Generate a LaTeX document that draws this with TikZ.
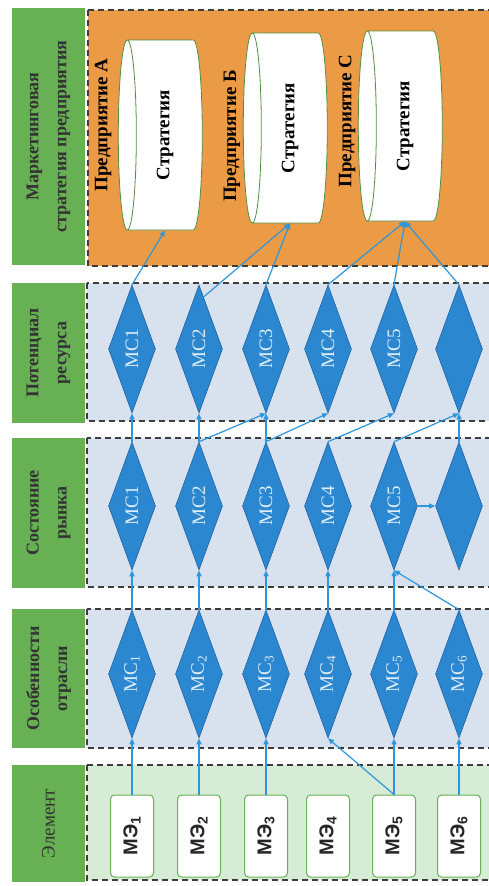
\documentclass[tikz,border=0pt]{standalone}
\usepackage{fontspec}
\setmainfont{Liberation Serif}
\newfontfamily\elfont{Liberation Sans}
\usepackage{xcolor}
\usepackage{tikz}
\usetikzlibrary{arrows.meta,shapes.geometric}
\definecolor{hdgreen}{RGB}{104,176,84}
\definecolor{bandorange}{RGB}{235,154,69}
\definecolor{bandblue}{RGB}{216,226,238}
\definecolor{bandgreen}{RGB}{214,236,214}
\definecolor{msblue}{RGB}{42,135,208}
\definecolor{msedge}{RGB}{30,100,165}
\definecolor{arblue}{RGB}{45,150,220}
\definecolor{dashgray}{RGB}{60,60,60}
\newcommand{\vtext}[1]{\rotatebox{90}{#1}}
\begin{document}
\begin{tikzpicture}[x=1pt,y=-1pt,>={Triangle[length=6pt,width=5pt]},
hdr/.style={fill=hdgreen,rotate=90,minimum height=73pt,inner sep=0pt,text=black!80,align=center,font=\bfseries\fontsize{18}{28}\selectfont},
ms/.style={diamond,aspect=.37,fill=msblue,draw=msedge,line width=.6pt,minimum width=47pt,minimum height=128pt,inner sep=0pt,text=white!85!msblue,font=\fontsize{19}{22}\selectfont},
mebox/.style={draw=hdgreen,line width=1pt,fill=white,rounded corners=4pt,minimum width=43pt,minimum height=82pt,inner sep=0pt,text=black!85,font=\elfont\bfseries\fontsize{20}{24}\selectfont},
strat/.style={cylinder,shape border rotate=180,aspect=.2,draw=hdgreen!80!black,line width=.8pt,fill=white,minimum height=84pt,minimum width=190pt,inner sep=0pt,font=\bfseries\fontsize{19}{22}\selectfont},
firm/.style={rotate=90,inner sep=0pt,font=\bfseries\fontsize{19}{22}\selectfont},
band/.style={draw=dashgray,line width=1.6pt,dash pattern=on 6pt off 4pt},
link/.style={->,draw=arblue,line width=1.2pt}]
\clip (0,0) rectangle (489,886);
\fill[white] (0,0) rectangle (489,886);
\draw[band,fill=bandorange] (88,10) rectangle (520,266);
\draw[band,fill=bandblue] (87,283) rectangle (520,421);
\draw[band,fill=bandblue] (87,438) rectangle (520,587);
\draw[band,fill=bandblue] (87,609) rectangle (520,748);
\draw[band,fill=bandgreen] (87,765) rectangle (520,880);
\node[hdr,minimum width=257pt] (hst) at (48.5,136.5) {Маркетинговая\\стратегия предприятия};
\node[hdr,minimum width=140pt] (hpr) at (48.5,353) {Потенциал\\ресурса};
\node[hdr,minimum width=150pt] (hsr) at (48.5,513) {Состояние\\рынка};
\node[hdr,minimum width=139pt] (hoi) at (48.5,678.5) {Особенности\\отрасли};
\node[hdr,minimum width=117pt,font=\fontsize{19}{28}\selectfont] (hel) at (48.5,823.5) {Элемент};
\foreach \i/\cx in {1/132,2/199,3/266,4/328,5/394,6/459}{
\node[mebox] (me\i) at (\cx,836) {\vtext{МЭ\textsubscript{\i}}};
\node[ms] (oi\i) at (\cx,674) {\vtext{МС\textsubscript{\i}}};
}
\foreach \i/\cx in {1/132,2/199,3/266,4/328,5/394}{
\node[ms] (sr\i) at (\cx,506) {\vtext{МС\i}};
\node[ms] (pr\i) at (\cx,349) {\vtext{МС\i}};
}
\node[ms] (sr6) at (459,506) {};
\node[ms] (pr6) at (459,349) {};
\node[strat] (stA) at (165,135) {\vtext{Стратегия}};
\node[strat] (stB) at (290,128) {\vtext{Стратегия}};
\node[strat] (stC) at (405,126) {\vtext{Стратегия}};
\node[firm] (fA) at (103,125) {Предприятие А};
\node[firm] (fB) at (232,136) {Предприятие Б};
\node[firm] (fC) at (347,121) {Предприятие С};
\foreach \i in {1,2,3,5,6}{\draw[link] (me\i.north)--(oi\i.south);}
\draw[link] (me5.north)--(oi4.south);
\foreach \i in {1,...,5}{\draw[link] (oi\i.north)--(sr\i.south);}
\draw[link] (oi6.north)--(sr5.south);
\draw[link] (sr5.east)--(sr6.west);
\foreach \i in {1,2,3,6}{\draw[link] (sr\i.north)--(pr\i.south);}
\foreach \i/\j in {2/3,3/4,4/5,5/6}{\draw[link] (sr\i.north)--(pr\j.south);}
\draw[link] (pr1.north)--(stA.south);
\draw[link] (pr2.85)--(stB.south);
\draw[link] (pr3.north)--(stB.south);
\foreach \i in {4,5,6}{\draw[link] (pr\i.north)--(stC.south);}
\end{tikzpicture}
\end{document}
